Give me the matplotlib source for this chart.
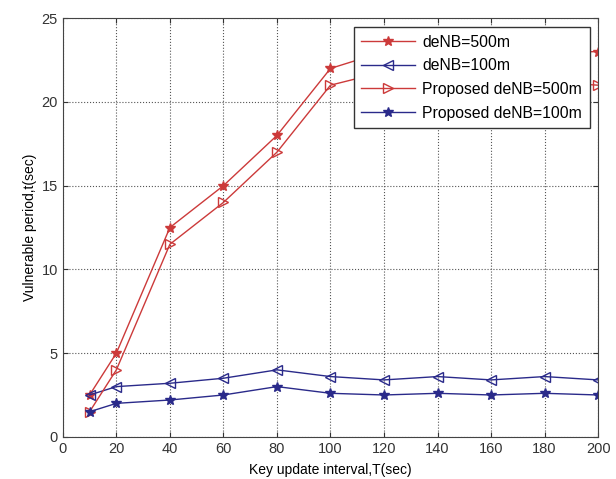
import numpy as np
import matplotlib
matplotlib.use("Agg")
import matplotlib.pyplot as plt

# data
T = [10, 20, 40, 60, 80, 100, 120, 140, 160, 180, 200]
denb500 = [2.5, 5, 12.5, 15, 18, 22, 23, 23, 23, 23, 23]
denb100 = [2.5, 3, 3.2, 3.5, 4, 3.6, 3.4, 3.6, 3.4, 3.6, 3.4]
prop500 = [1.5, 4, 11.5, 14, 17, 21, 21.8, 21.5, 21.5, 21.2, 21]
prop100 = [1.5, 2, 2.2, 2.5, 3, 2.6, 2.5, 2.6, 2.5, 2.6, 2.5]

plt.rcParams['font.family'] = ['Liberation Sans', 'DejaVu Sans']
plt.rcParams['font.size'] = 10

red = "#cc3a3a"
blue = "#2a2a8a"

fig = plt.figure(figsize=(6.16, 4.79), dpi=100, facecolor="white")
ax = fig.add_axes([0.102, 0.088, 0.869, 0.874])

ax.plot(T, denb500, color=red, lw=1, marker="*", ms=7, label="deNB=500m")
ax.plot(T, denb100, color=blue, lw=1, marker="<", ms=7, mfc="none", label="deNB=100m")
ax.plot(T, prop500, color=red, lw=1, marker=">", ms=7, mfc="none", label="Proposed deNB=500m")
ax.plot(T, prop100, color=blue, lw=1, marker="*", ms=7, label="Proposed deNB=100m")

ax.set_xlim(0, 200)
ax.set_ylim(0, 25)
ax.set_xticks(range(0, 201, 20))
ax.set_yticks(range(0, 26, 5))
ax.grid(True, linestyle=":", color="#555555", linewidth=0.8)
ax.tick_params(direction="in", top=True, right=True, colors="#333333", labelsize=10.5)
for s in ax.spines.values():
    s.set_color("#444444")

ax.set_xlabel("Key update interval,T(sec)", labelpad=5)
ax.set_ylabel("Vulnerable period,t(sec)", labelpad=3)

leg = ax.legend(loc="upper right", fancybox=False, framealpha=1,
                edgecolor="#333333", borderaxespad=0.55, handlelength=3.4,
                fontsize=11.3, labelspacing=0.55, borderpad=0.5,
                handletextpad=0.45)
leg.get_frame().set_linewidth(1)

fig.savefig("out.png", dpi=100)
